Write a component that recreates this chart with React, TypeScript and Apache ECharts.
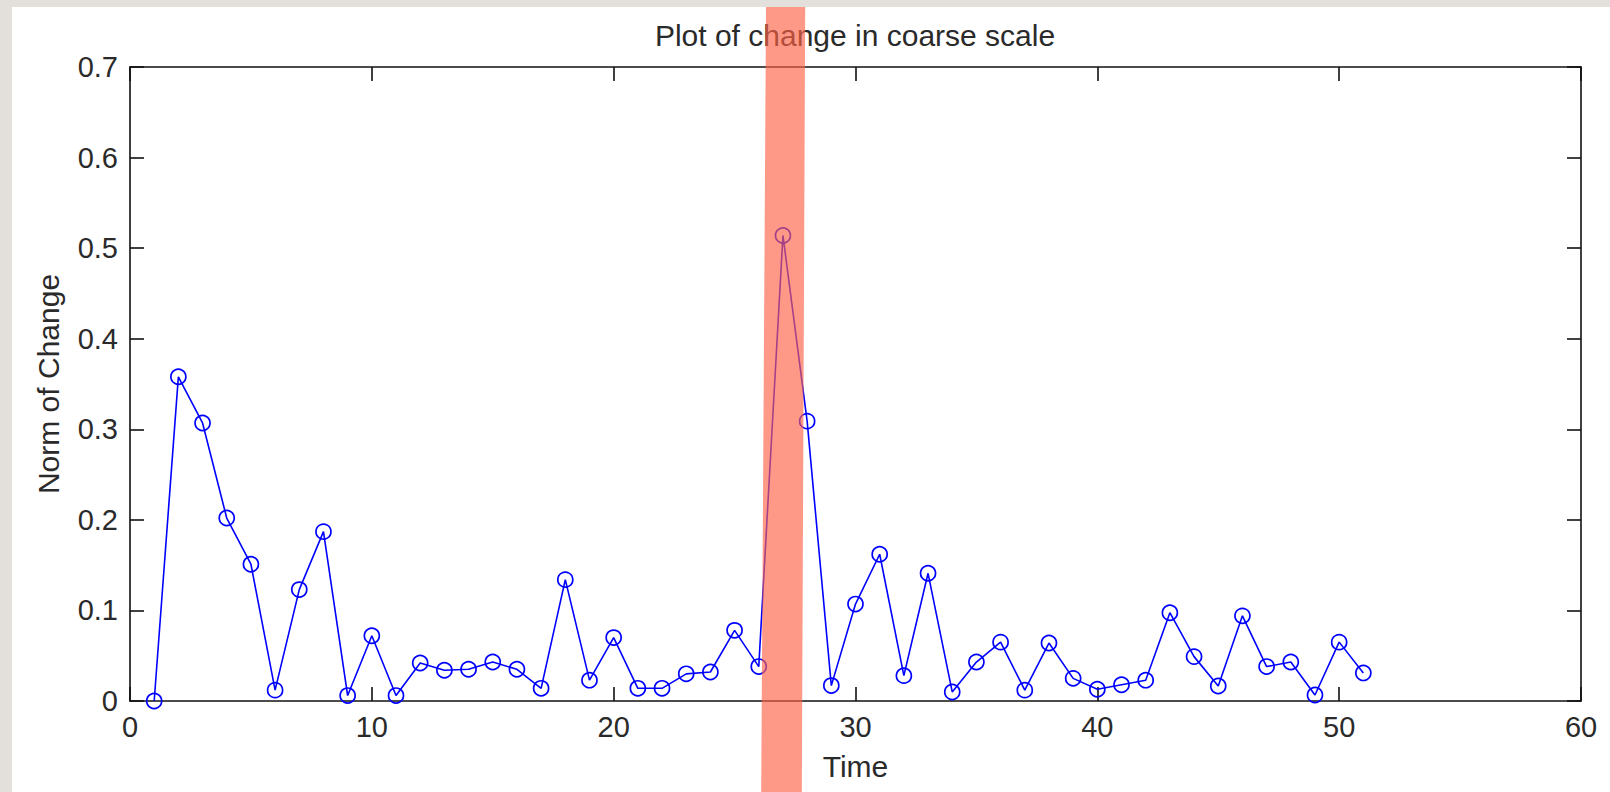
import React, { useEffect, useRef } from "react";
import * as echarts from "echarts";

const timeSteps: number[] = [
  1, 2, 3, 4, 5, 6, 7, 8, 9, 10, 11, 12, 13, 14, 15, 16, 17, 18, 19, 20, 21, 22, 23, 24, 25, 26,
  27, 28, 29, 30, 31, 32, 33, 34, 35, 36, 37, 38, 39, 40, 41, 42, 43, 44, 45, 46, 47, 48, 49, 50, 51,
];
const normOfChange: number[] = [
  0.0, 0.358, 0.307, 0.202, 0.151, 0.012, 0.123, 0.187, 0.006, 0.072, 0.006, 0.042, 0.034, 0.035,
  0.043, 0.035, 0.014, 0.134, 0.023, 0.07, 0.014, 0.014, 0.03, 0.032, 0.078, 0.038, 0.514, 0.309,
  0.017, 0.107, 0.162, 0.028, 0.141, 0.01, 0.043, 0.065, 0.012, 0.064, 0.025, 0.013, 0.018, 0.023,
  0.0975, 0.049, 0.0166, 0.094, 0.038, 0.043, 0.0066, 0.065, 0.031,
];
// highlighted interval (time units), top and bottom edges of the band
const bandTop: number[] = [26.3, 27.92];
const bandBottom: number[] = [26.1, 27.78];

const titleText = "Plot of change in coarse scale";
const xName = "Time";
const yName = "Norm of Change";

export default function App() {
  const ref = useRef<HTMLDivElement>(null);
  useEffect(() => {
    if (!ref.current) return;
    const chart = echarts.init(ref.current, null, { renderer: "svg" });
    const font = "'Liberation Sans', Arial, Helvetica, sans-serif";
    const textColor = "#2a2a2a";
    const axisCommon = {
      min: 0,
      axisLine: { show: true, onZero: false, lineStyle: { color: "#111", width: 1.6 } },
      axisTick: { show: true, inside: true, length: 14, lineStyle: { color: "#111", width: 1.6 } },
      splitLine: { show: false },
    };
    const data = timeSteps.map((t, i) => [t, normOfChange[i]]);
    chart.setOption({
      animation: false,
      backgroundColor: "#ffffff",
      title: {
        text: titleText,
        left: 855,
        top: 20,
        padding: 0,
        textAlign: "center",
        textStyle: { fontFamily: font, fontSize: 30, fontWeight: "normal", color: textColor },
      },
      grid: { left: 130, top: 67, right: 29, bottom: 91, containLabel: false },
      xAxis: [
        {
          ...axisCommon,
          type: "value",
          position: "bottom",
          max: 60,
          interval: 10,
          name: xName,
          nameLocation: "middle",
          nameGap: 50,
          nameTextStyle: { fontFamily: font, fontSize: 30, color: textColor },
          axisLabel: { fontFamily: font, fontSize: 29, color: textColor, margin: 11 },
        },
        {
          ...axisCommon,
          type: "value",
          position: "top",
          max: 60,
          interval: 10,
          axisLabel: { show: false },
        },
      ],
      yAxis: [
        {
          ...axisCommon,
          type: "value",
          position: "left",
          max: 0.7,
          interval: 0.1,
          name: yName,
          nameLocation: "middle",
          nameRotate: 90,
          nameGap: 67,
          nameTextStyle: { fontFamily: font, fontSize: 30, color: textColor },
          axisLabel: {
            fontFamily: font,
            fontSize: 29,
            color: textColor,
            margin: 12,
            formatter: (v: number) => (v === 0 ? "0" : v.toFixed(1)),
          },
        },
        {
          ...axisCommon,
          type: "value",
          position: "right",
          max: 0.7,
          interval: 0.1,
          axisLabel: { show: false },
        },
      ],
      series: [
        {
          type: "line",
          xAxisIndex: 0,
          yAxisIndex: 0,
          data,
          symbol: "circle",
          symbolSize: 15,
          showSymbol: true,
          lineStyle: { color: "#0000ff", width: 1.6 },
          itemStyle: { color: "rgba(0,0,0,0)", borderColor: "#0000ff", borderWidth: 1.7 },
          emphasis: { disabled: true },
          z: 3,
        },
      ],
    });
    const px = (v: number) => chart.convertToPixel({ xAxisIndex: 0 }, v) as number;
    chart.setOption({
      graphic: [
        { type: "rect", shape: { x: 0, y: 0, width: 12, height: 792 }, style: { fill: "#e3e0db" }, z: 50 },
        { type: "rect", shape: { x: 0, y: 0, width: 1610, height: 7 }, style: { fill: "#e3e0db" }, z: 50 },
        {
          type: "polygon",
          shape: {
            points: [
              [px(bandTop[0]), 7],
              [px(bandTop[1]), 7],
              [px(bandBottom[1]), 792],
              [px(bandBottom[0]), 792],
            ],
          },
          style: { fill: "rgba(255,99,71,0.65)" },
          z: 100,
          silent: true,
        },
      ],
    });
    return () => chart.dispose();
  }, []);
  return <div ref={ref} style={{ position: "fixed", left: 0, top: 0, width: 1610, height: 792 }} />;
}
